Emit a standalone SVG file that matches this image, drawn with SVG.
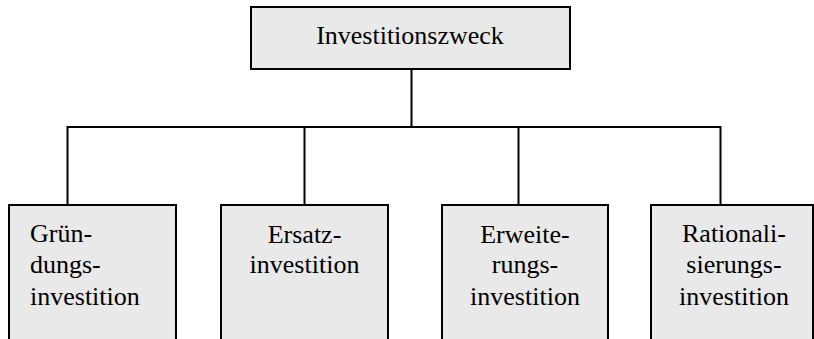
<svg xmlns="http://www.w3.org/2000/svg" width="814" height="339" viewBox="0 0 814 339">
<style>
.box{fill:#e9e9e9;stroke:#000;stroke-width:2}
.t{font-family:"Liberation Serif","Times New Roman",serif;font-size:26px;fill:#000}
.c{text-anchor:middle}
.con{fill:none;stroke:#000;stroke-width:2}
</style>
<rect width="814" height="339" fill="#fff"/>
<g id="connectors">
<path class="con" d="M411.5,69 V127 M67.5,127 H720.5 M67.5,126 V205 M304.5,127 V205 M518.5,127 V205 M720.5,126 V205"/>
</g>
<g id="n0">
<rect class="box" x="251" y="7" width="319" height="62"/>
<text class="t c" x="410" y="44">Investitionszweck</text>
</g>
<g id="n1">
<rect class="box" x="9" y="205" width="167" height="140"/>
<text class="t" x="30" y="242">Grün-</text>
<text class="t" x="30" y="273">dungs-</text>
<text class="t" x="30" y="305">investition</text>
</g>
<g id="n2">
<rect class="box" x="221" y="205" width="167" height="140"/>
<text class="t c" x="304.5" y="243">Ersatz-</text>
<text class="t c" x="304.5" y="273">investition</text>
</g>
<g id="n3">
<rect class="box" x="442" y="205" width="166" height="140"/>
<text class="t c" x="525" y="243">Erweite-</text>
<text class="t c" x="525" y="273">rungs-</text>
<text class="t c" x="525" y="305">investition</text>
</g>
<g id="n4">
<rect class="box" x="651" y="205" width="162" height="140"/>
<text class="t c" x="734" y="242">Rationali-</text>
<text class="t c" x="734" y="273">sierungs-</text>
<text class="t c" x="734" y="305">investition</text>
</g>
</svg>
